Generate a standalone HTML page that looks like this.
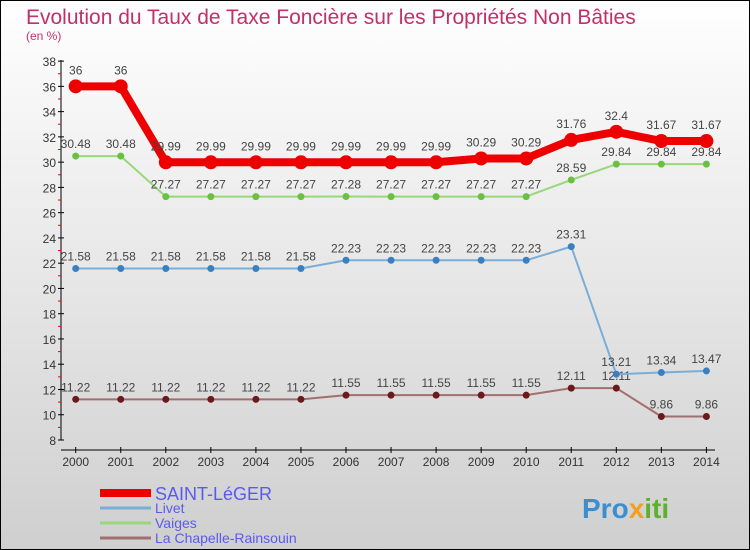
<!DOCTYPE html>
<html><head><meta charset="utf-8"><style>
body{margin:0;width:750px;height:550px;overflow:hidden;font-family:"Liberation Sans",sans-serif}
</style></head><body>
<svg id="c" width="750" height="550" xmlns="http://www.w3.org/2000/svg" style="display:block">
<defs><linearGradient id="bg" x1="0" y1="0" x2="0" y2="1"><stop offset="0" stop-color="#ffffff"/><stop offset="1" stop-color="#cfcfcf"/></linearGradient></defs>
<rect x="0.5" y="0.5" width="749" height="549" fill="url(#bg)" stroke="#000"/>
<text x="26" y="24" font-size="21" fill="#c0306a">Evolution du Taux de Taxe Foncière sur les Propriétés Non Bâties</text>
<text x="26" y="40" font-size="12" fill="#c0306a">(en %)</text>
<g id="axes"></g><g id="series"></g><g id="legend"></g>
<text x="582" y="518" font-size="28" font-weight="bold" fill="#3a8fd0">Pro<tspan fill="#f0a020">x</tspan><tspan fill="#60b030">iti</tspan></text>
</svg>
<script>
const years=[2000,2001,2002,2003,2004,2005,2006,2007,2008,2009,2010,2011,2012,2013,2014];
const yTicks=[8,10,12,14,16,18,20,22,24,26,28,30,32,34,36,38];
const saint=[36,36,29.99,29.99,29.99,29.99,29.99,29.99,29.99,30.29,30.29,31.76,32.4,31.67,31.67];
const livet=[21.58,21.58,21.58,21.58,21.58,21.58,22.23,22.23,22.23,22.23,22.23,23.31,13.21,13.34,13.47];
const vaiges=[30.48,30.48,27.27,27.27,27.27,27.27,27.28,27.27,27.27,27.27,27.27,28.59,29.84,29.84,29.84];
const chap=[11.22,11.22,11.22,11.22,11.22,11.22,11.55,11.55,11.55,11.55,11.55,12.11,12.11,9.86,9.86];
const NS="http://www.w3.org/2000/svg";
const xs=i=>75.7+i*45.05, ys=v=>440-(v-8)*12.63;
function mk(p,t,a,txt){const e=document.createElementNS(NS,t);for(const k in a)e.setAttribute(k,a[k]);if(txt!==undefined)e.textContent=txt;p.appendChild(e);return e;}
const ax=document.getElementById('axes');
let e=mk(ax,'line',{x1:61,y1:60,x2:61,y2:440,stroke:'#000'});

e=mk(ax,'line',{x1:61,y1:450,x2:715,y2:450,stroke:'#000'});

yTicks.forEach((t,i)=>{const y=ys(t);
 mk(ax,'line',{x1:58,y1:y,x2:64,y2:y,stroke:'#000'});
 if(i<yTicks.length-1)mk(ax,'line',{x1:58,y1:ys(t+1),x2:61,y2:ys(t+1),stroke:'#e00'});
 e=mk(ax,'text',{x:56,y:y+5,'font-size':12,'text-anchor':'end',fill:'#333'},t);
 
});
years.forEach((yr,i)=>{const x=xs(i);
 mk(ax,'line',{x1:x,y1:447,x2:x,y2:453,stroke:'#000'});
 e=mk(ax,'text',{x:x,y:466,'font-size':12,'text-anchor':'middle',fill:'#333'},yr);
 
});
const sg=document.getElementById('series');
function draw(vals,col,dot,w,r,name,off){
 const g=mk(sg,'g',{});
 
 mk(g,'polyline',{points:vals.map((v,i)=>xs(i)+','+ys(v)).join(' '),fill:'none',stroke:col,'stroke-width':w,'stroke-linejoin':'round'});
 vals.forEach((v,i)=>{
  const c=mk(g,'circle',{cx:xs(i),cy:ys(v),r:r,fill:dot});
  
  const t=mk(g,'text',{x:xs(i),y:ys(v)+off,'font-size':12,'text-anchor':'middle',fill:'#444'},String(v));
  
 });
}
draw(chap,'#a07070','#6a1a1a',2,3.5,'series-la-chapelle',-8);
draw(livet,'#7aaed6','#3a80c0',2,3.5,'series-livet',-8);
draw(vaiges,'#9ad67a','#6ac040',2,3.5,'series-vaiges',-8);
draw(saint,'#ee0000','#ee0000',8,7,'series-saint-leger',-12);
const lg=document.getElementById('legend');
[['SAINT-LéGER','#ee0000',8,18],['Livet','#7aaed6',3,14],['Vaiges','#9ad67a',3,14],['La Chapelle-Rainsouin','#a07070',3,14]].forEach((d,i)=>{
 const y=493+i*15;
 const g=mk(lg,'g',{});
 
 mk(g,'line',{x1:100,y1:y,x2:151,y2:y,stroke:d[1],'stroke-width':d[2]});
 mk(g,'text',{x:155,y:y+(i==0?7:5),'font-size':d[3],fill:'#5a5af0'},d[0]);
});
</script>
</body></html>
